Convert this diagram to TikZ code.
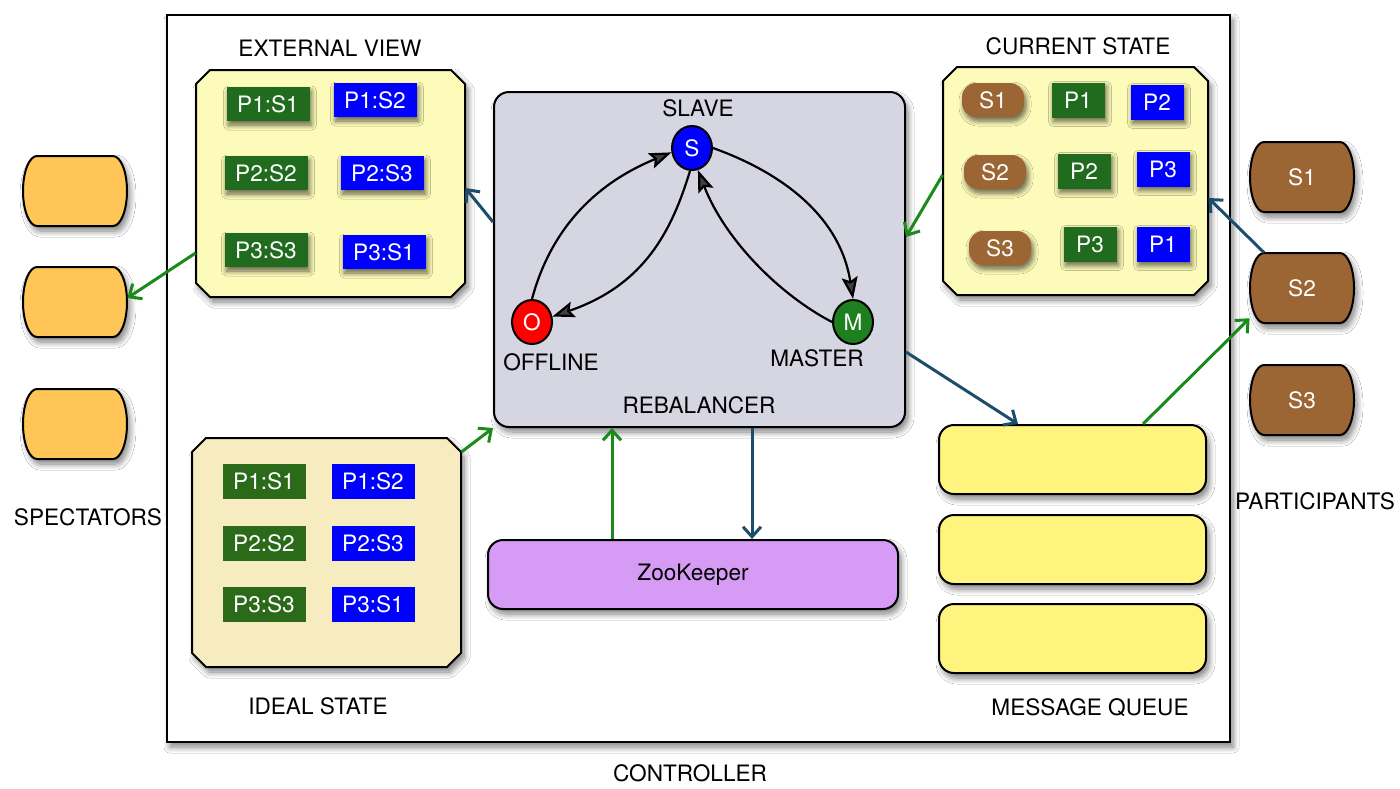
\documentclass[tikz,border=0pt]{standalone}
\usepackage{fontspec}
\setmainfont{TeX Gyre Heros}
\usetikzlibrary{arrows.meta,shapes.misc,shapes.geometric,shadows.blur,fit}
\definecolor{evfill}{HTML}{FDFBB9}
\definecolor{isfill}{HTML}{F6ECBF}
\definecolor{rebfill}{HTML}{D6D5E2}
\definecolor{zkfill}{HTML}{D69BF5}
\definecolor{mqfill}{HTML}{FFF47E}
\definecolor{specfill}{HTML}{FFC657}
\definecolor{partfill}{HTML}{9B6634}
\definecolor{tilegreen}{HTML}{206B1E}
\definecolor{isgreen}{HTML}{2A6A19}
\definecolor{tileblue}{HTML}{0000FF}
\definecolor{arrgreen}{HTML}{1A8A1A}
\definecolor{arrblue}{HTML}{1C4D6B}
\definecolor{mgreen}{HTML}{1E7F1E}
\tikzset{
  shad/.style={blur shadow={shadow xshift=1.5pt,shadow yshift=-2.5pt,shadow blur radius=3pt,shadow blur steps=8,shadow opacity=50}},
  tshad/.style={blur shadow={shadow xshift=1pt,shadow yshift=-2pt,shadow blur radius=2.5pt,shadow blur steps=6,shadow opacity=60}},
  box/.style={draw=black, line width=1pt},
  lbl/.style={inner sep=0pt},
  tile/.style={text=white, inner sep=0pt, minimum width=41.5pt, minimum height=17pt},
  gtile/.style={tile, fill=tilegreen, tshad},
  btile/.style={tile, fill=tileblue, tshad},
  igtile/.style={tile, fill=isgreen, minimum height=17.5pt},
  ibtile/.style={tile, fill=tileblue, minimum height=17.5pt},
  ctile/.style={text=white, inner sep=0pt, minimum width=26.5pt, minimum height=17.5pt, tshad},
  pill/.style={fill=partfill, text=white, rounded corners=7pt, minimum width=31pt, minimum height=17pt, inner sep=0pt, tshad},
  state/.style={ellipse, draw, line width=1pt, minimum width=20pt, minimum height=22pt, inner sep=0pt, text=white},
  trans/.style={line width=1.1pt, -{Stealth[length=11pt,width=8pt,inset=2pt]}},
  garr/.style={draw=arrgreen, line width=1.5pt, -{Straight Barb[length=5pt,width=9pt]}},
  darr/.style={draw=arrblue, line width=1.5pt, -{Straight Barb[length=5pt,width=9pt]}},
  qbox/.style={box, fill=mqfill, rounded corners=7.5pt, minimum width=133.5pt, minimum height=34.5pt, shad},
}
\newcommand\chambox[6]{%
  \draw[box, fill=#6, shad] (#2+14,#3) -- (#4-14,#3) -- (#4,#3+14) -- (#4,#5-14) -- (#4-14,#5) -- (#2+14,#5) -- (#2,#5-14) -- (#2,#3+14) -- cycle;
  \node[fit={(#2,#3) (#4,#5)}, inner sep=0pt] (#1) {};}
\newcommand\actorbox[5]{%
  \draw[box, fill=#4, shad] (#2-38,#3-35) -- (#2+38,#3-35) arc[start angle=-90,end angle=90,x radius=14,y radius=35] -- (#2-38,#3+35) arc[start angle=90,end angle=270,x radius=14,y radius=35] -- cycle;
  \node[inner sep=0pt, minimum width=52pt, minimum height=35pt, text=white] (#1) at (#2,#3) {#5};}
\begin{document}
\begin{tikzpicture}[x=0.5pt,y=-0.5pt,font=\fontsize{11.3}{13}\selectfont]
\fill[white] (0,0) rectangle (1400,788);
\useasboundingbox (0,0) rectangle (1400,788);

% controller
\node[box, fill=white, minimum width=531.5pt, minimum height=363.5pt, inner sep=0pt, shad] (ctrl) at (698.5,378.5) {};
\node[lbl] (ctrllbl) at (690,773) {CONTROLLER};

% external view
\chambox{ev}{196}{70}{465}{297}{evfill}
\node[lbl] (evlbl) at (330,48) {EXTERNAL VIEW};
\node[gtile] (ev11) at (268,104) {P1:S1};
\node[btile] (ev12) at (375,100) {P1:S2};
\node[gtile] (ev22) at (266,173) {P2:S2};
\node[btile] (ev23) at (382,173) {P2:S3};
\node[gtile] (ev33) at (266,250) {P3:S3};
\node[btile] (ev31) at (384,252) {P3:S1};

% current state
\chambox{cs}{943}{67}{1208}{295}{evfill}
\node[lbl] (cslbl) at (1078,46) {CURRENT STATE};
\node[pill] (cs1) at (993,100) {S1};
\node[ctile, fill=tilegreen] (cs1a) at (1078,100) {P1};
\node[ctile, fill=tileblue] (cs1b) at (1157,102) {P2};
\node[pill] (cs2) at (995,172) {S2};
\node[ctile, fill=tilegreen] (cs2a) at (1084,171) {P2};
\node[ctile, fill=tileblue] (cs2b) at (1163,169) {P3};
\node[pill] (cs3) at (1000,248) {S3};
\node[ctile, fill=tilegreen] (cs3a) at (1090,244) {P3};
\node[ctile, fill=tileblue] (cs3b) at (1163,244) {P1};

% ideal state
\chambox{is}{192}{438}{461}{667}{isfill}
\node[lbl] (islbl) at (318,706) {IDEAL STATE};
\node[igtile] (is11) at (264,481) {P1:S1};
\node[ibtile] (is12) at (373,481) {P1:S2};
\node[igtile] (is22) at (264,543) {P2:S2};
\node[ibtile] (is23) at (373,543) {P2:S3};
\node[igtile] (is33) at (264,604) {P3:S3};
\node[ibtile] (is31) at (373,604) {P3:S1};

% rebalancer
\node[box, fill=rebfill, rounded corners=7.5pt, minimum width=205.5pt, minimum height=167.5pt, inner sep=0pt, shad] (reb) at (699.5,259.5) {};
\node[lbl] (reblbl) at (699,405) {REBALANCER};
\node[state, fill=tileblue] (S) at (692,148) {S};
\node[state, fill=red] (O) at (532,322) {O};
\node[state, fill=mgreen] (M) at (853,322) {M};
\node[lbl] (Slbl) at (698,108) {SLAVE};
\node[lbl] (Olbl) at (551,362) {OFFLINE};
\node[lbl] (Mlbl) at (817,358) {MASTER};
\draw[trans] (O.north) .. controls (550,232) and (592,185) .. (S.192);
\draw[trans] (S.-95) .. controls (672,230) and (645,285) .. (O.15);
\draw[trans] (S.east) .. controls (780,172) and (840,215) .. (M.north);
\draw[trans] (M.west) .. controls (780,295) and (725,240) .. (S.-75);

% zookeeper
\node[box, fill=zkfill, rounded corners=7.5pt, minimum width=205pt, minimum height=34.5pt, shad] (zk) at (693,574.5) {ZooKeeper};

% message queue
\node[qbox] (mq1) at (1072.5,459.5) {};
\node[qbox] (mq2) at (1072.5,549.5) {};
\node[qbox] (mq3) at (1072.5,638.5) {};
\node[lbl] (mqlbl) at (1090,708) {MESSAGE QUEUE};

% spectators
\actorbox{sp1}{75}{191}{specfill}{}
\actorbox{sp2}{75}{302}{specfill}{}
\actorbox{sp3}{75}{424}{specfill}{}
\node[lbl] (splbl) at (88,517) {SPECTATORS};

% participants
\actorbox{p1}{1302}{177}{partfill}{S1}
\actorbox{p2}{1302}{288}{partfill}{S2}
\actorbox{p3}{1302}{400}{partfill}{S3}
\node[lbl] (plbl) at (1315,501) {PARTICIPANTS};

% connectors
\draw[darr] (reb.west |- 0,222) -- (ev.east |- 0,188);
\draw[garr] (ev.west |- 0,253) -- (sp2.east |- 0,298);
\draw[garr] (cs.west |- 0,175) -- (reb.east |- 0,237);
\draw[darr] ([xshift=-19pt]p2.north) -- (cs.east |- 0,198);
\draw[garr] (mq1.north -| 1143,0) -- (p2.210);
\draw[darr] (reb.east |- 0,352) -- (mq1.north -| 1018,0);
\draw[garr] (is.east |- 0,452) -- (reb.south west);
\draw[garr] (zk.north -| 612,0) -- (reb.south -| 612,0);
\draw[darr] (reb.south -| 752,0) -- (zk.north -| 752,0);
\end{tikzpicture}
\end{document}
